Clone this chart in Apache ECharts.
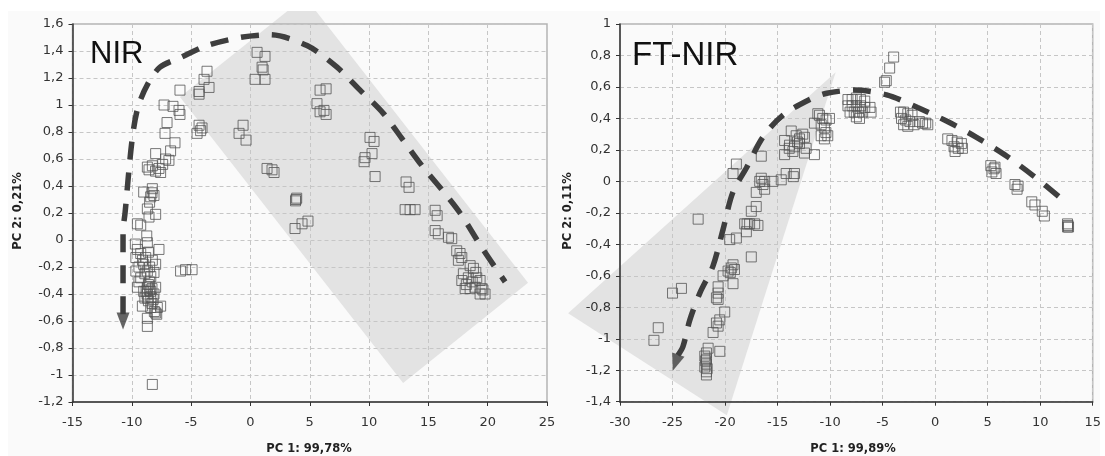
<!DOCTYPE html>
<html>
<head>
<meta charset="utf-8">
<script src="https://cdn.jsdelivr.net/npm/echarts@6/dist/echarts.min.js"></script>
<style>
html,body{margin:0;padding:0;background:#ffffff;}
#chart{width:1105px;height:456px;}
</style>
</head>
<body>
<div id="chart"></div>
<script>
// ---------- data ----------
const nirTitle = 'NIR';
const ftTitle = 'FT-NIR';
const nirXName = 'PC 1: 99,78%';
const nirYName = 'PC 2: 0,21%';
const ftXName = 'PC 1: 99,89%';
const ftYName = 'PC 2: 0,11%';

// NIR scores [PC1, PC2]
const nirScores = [
  [-8.27,-1.07],
  [-8.69,-0.64],[-8.69,-0.58],[-7.99,-0.54],[-9.11,-0.49],[-8.41,-0.50],[-7.85,-0.50],[-7.57,-0.49],[-8.10,-0.53],[-7.90,-0.55],
  [-8.69,-0.43],[-8.13,-0.40],[-8.41,-0.38],[-9.00,-0.38],[-8.69,-0.35],[-9.53,-0.35],[-7.99,-0.35],[-8.60,-0.33],[-8.50,-0.37],
  [-8.70,-0.40],[-8.40,-0.42],[-8.60,-0.45],[-8.30,-0.36],[-8.80,-0.38],[-8.50,-0.31],[-8.20,-0.44],[-8.90,-0.43],[-8.30,-0.47],
  [-9.25,-0.28],[-8.13,-0.24],[-8.69,-0.23],[-9.66,-0.23],[-9.00,-0.18],[-7.99,-0.18],[-8.27,-0.15],[-9.66,-0.13],[-8.83,-0.13],
  [-9.25,-0.10],[-7.71,-0.07],[-9.53,-0.07],[-8.69,-0.02],[-8.74,0.03],[-8.50,-0.20],[-8.90,-0.25],[-9.40,-0.20],[-8.40,-0.27],
  [-9.10,-0.15],[-8.60,-0.09],[-9.70,-0.03],[-9.40,-0.31],
  [-5.89,-0.23],[-5.47,-0.22],[-4.92,-0.22],
  [-9.25,0.11],[-9.53,0.12],[-8.55,0.17],[-7.99,0.19],[-8.69,0.23],[-8.41,0.32],[-8.13,0.33],[-9.00,0.355],[-8.27,0.38],[-8.50,0.28],[-8.30,0.35],
  [-8.55,0.52],[-7.57,0.50],[-7.71,0.53],[-8.27,0.55],[-8.69,0.54],[-6.87,0.59],[-7.15,0.60],[-6.73,0.66],[-7.99,0.64],[-7.40,0.56],[-8.00,0.51],
  [-6.36,0.72],[-7.20,0.79],[-7.03,0.87],[-5.94,0.93],[-6.02,0.96],[-6.53,0.99],[-7.28,1.00],[-5.94,1.11],
  [-4.33,1.08],[-4.33,1.10],[-3.49,1.13],[-3.91,1.19],[-3.66,1.25],
  [-4.33,0.85],[-4.08,0.83],[-4.50,0.79],[-4.20,0.81],
  [-0.62,0.85],[-0.96,0.79],[-0.37,0.74],
  [0.56,1.39],[1.23,1.36],[0.98,1.28],[1.07,1.26],[0.39,1.19],[1.23,1.19],
  [1.40,0.53],[1.82,0.52],[1.99,0.50],
  [5.87,1.11],[6.38,1.12],[5.61,1.01],[5.87,0.95],[6.38,0.93],[6.20,0.96],
  [3.84,0.30],[3.90,0.31],[3.80,0.29],[4.85,0.14],[4.35,0.12],[3.76,0.085],
  [10.08,0.76],[10.42,0.73],[10.25,0.64],[9.66,0.61],[9.58,0.58],[10.51,0.47],
  [13.12,0.43],[13.37,0.39],[13.04,0.225],[13.46,0.225],[13.88,0.225],
  [15.57,0.22],[15.74,0.18],[15.57,0.07],[15.84,0.046],[16.69,0.02],[16.97,0.01],
  [17.39,-0.08],[17.67,-0.10],[17.82,-0.13],[17.53,-0.15],[18.52,-0.19],[18.80,-0.21],[17.95,-0.25],[18.37,-0.28],
  [19.08,-0.28],[19.36,-0.30],[17.82,-0.30],[18.10,-0.36],[18.52,-0.36],[18.94,-0.35],[19.50,-0.36],[19.36,-0.40],
  [19.78,-0.40],[19.60,-0.37],[18.70,-0.31],[19.00,-0.24],[18.20,-0.33]
];

// FT-NIR scores [PC1, PC2]
const ftScores = [
  [-26.77,-1.01],[-26.36,-0.93],[-25.00,-0.71],[-24.15,-0.68],[-22.56,-0.24],
  [-21.61,-1.06],[-20.50,-1.08],[-21.77,-1.09],[-21.93,-1.11],[-21.77,-1.13],[-21.77,-1.16],[-21.93,-1.18],[-21.77,-1.21],
  [-21.77,-1.23],[-21.85,-1.14],[-21.70,-1.19],
  [-20.03,-0.83],[-20.50,-0.88],[-20.82,-0.90],[-20.66,-0.92],[-21.14,-0.96],
  [-20.66,-0.67],[-20.66,-0.71],[-20.82,-0.74],[-20.66,-0.75],
  [-19.24,-0.53],[-19.40,-0.55],[-19.71,-0.57],[-20.19,-0.60],[-19.10,-0.56],[-19.24,-0.65],[-19.50,-0.58],
  [-17.50,-0.48],[-18.92,-0.36],[-19.56,-0.37],
  [-18.13,-0.27],[-17.66,-0.27],[-17.18,-0.27],[-16.87,-0.28],[-17.97,-0.32],[-17.90,-0.27],
  [-17.03,-0.16],[-17.50,-0.19],
  [-16.55,0.02],[-16.23,0.00],[-16.39,-0.02],[-16.70,0.00],[-17.03,-0.07],[-16.23,-0.05],
  [-14.18,0.05],[-13.39,0.05],[-14.65,0.01],[-15.44,0.00],[-13.50,0.03],
  [-16.55,0.16],[-18.92,0.11],[-19.24,0.05],
  [-13.70,0.32],[-13.23,0.29],[-12.60,0.30],[-12.91,0.27],[-12.44,0.28],[-14.33,0.26],[-13.86,0.23],[-13.39,0.22],
  [-12.91,0.24],[-13.54,0.19],[-12.44,0.18],[-11.49,0.17],[-14.33,0.17],[-13.89,0.21],[-12.28,0.21],[-13.10,0.25],
  [-11.01,0.42],[-10.70,0.40],[-10.38,0.39],[-11.49,0.37],[-10.85,0.36],[-10.54,0.34],[-10.85,0.29],[-10.22,0.29],
  [-10.54,0.27],[-10.06,0.40],[-11.17,0.43],[-10.40,0.31],
  [-8.30,0.52],[-7.90,0.52],[-7.50,0.53],[-7.10,0.52],[-6.70,0.51],[-8.30,0.48],[-7.90,0.48],[-7.50,0.48],[-7.10,0.48],
  [-6.70,0.47],[-8.10,0.44],[-7.70,0.44],[-7.30,0.44],[-6.90,0.44],[-7.50,0.41],[-7.20,0.40],[-6.20,0.47],[-6.10,0.44],
  [-3.95,0.79],[-4.33,0.72],[-4.65,0.64],[-4.81,0.63],
  [-3.30,0.44],[-3.00,0.44],[-2.60,0.43],[-2.20,0.42],[-3.20,0.40],[-2.80,0.39],[-2.40,0.38],[-3.00,0.36],[-2.60,0.35],
  [-1.20,0.37],[-0.90,0.37],[-0.70,0.36],[-1.50,0.38],[-2.00,0.36],
  [1.20,0.27],[1.60,0.26],[2.10,0.25],[2.50,0.24],[1.80,0.22],[2.20,0.21],[2.60,0.21],[1.90,0.19],
  [5.30,0.10],[5.70,0.09],[5.40,0.06],[5.80,0.05],[5.60,0.08],
  [7.60,-0.02],[7.90,-0.03],[7.80,-0.05],
  [9.20,-0.13],[9.50,-0.15],[10.20,-0.19],[10.40,-0.22],
  [12.60,-0.27],[12.70,-0.29],[12.60,-0.29],[12.65,-0.28]
];

// dashed trend curves (drawn from the arrow end)
const nirTrend = [[-10.74,-0.55],[-10.74,-0.32],[-10.74,0.06],[-10.57,0.20],[-9.98,0.74],[-9.48,0.985],[-8.63,1.16],
  [-7.62,1.28],[-5.94,1.35],[-3.66,1.44],[-0.88,1.50],[1.65,1.52],[4.77,1.44],[7.30,1.28],[9.24,1.11],[11.18,0.94],
  [12.87,0.74],[14.55,0.54],[16.16,0.37],[17.67,0.20],[19.61,-0.07],[21.47,-0.31]];
const ftTrend = [[-24.49,-1.105],[-24.01,-1.05],[-23.35,-0.88],[-22.40,-0.71],[-21.16,-0.54],[-20.21,-0.31],[-19.26,-0.07],
  [-17.93,0.09],[-16.41,0.28],[-14.51,0.42],[-11.94,0.52],[-10.32,0.56],[-7.66,0.58],[-4.62,0.55],[-1.67,0.47],
  [1.18,0.38],[3.94,0.28],[6.60,0.17],[9.26,0.04],[11.83,-0.10],[12.49,-0.14]];
const nirArrow = [[-10.74,-0.60]];
const ftArrow = [[-24.71,-1.152]];

// shaded regions (polygon vertices in data units)
const nirRegion = [[-5.94,1.06],[4.6,1.80],[23.4,-0.316],[12.87,-1.06]];
const ftRegion = [[-34.94,-0.838],[-9.47,0.694],[-19.83,-1.486]];

// axes
const nirX = {min:-15, max:25, interval:5};
const nirY = {min:-1.2, max:1.6, interval:0.2};
const ftX = {min:-30, max:15, interval:5};
const ftY = {min:-1.4, max:1.0, interval:0.2};

// ---------- chart ----------
const chart = echarts.init(document.getElementById('chart'), null, {renderer:'canvas'});
const labelFont = 'DejaVu Sans';
const fmtY = v => String(Math.round(v*10)/10).replace('.', ',');

function clipAbove(pts, yTop){
  const out = [];
  for (let i = 0; i < pts.length; i++){
    const a = pts[i], b = pts[(i+1) % pts.length];
    const ain = a[1] >= yTop, bin = b[1] >= yTop;
    if (ain) out.push(a);
    if (ain !== bin){
      const t = (yTop - a[1]) / (b[1] - a[1]);
      out.push([a[0] + t*(b[0]-a[0]), yTop]);
    }
  }
  return out;
}

function xAxisCfg(idx, r){
  return {type:'value', gridIndex:idx, min:r.min, max:r.max, interval:r.interval,
    axisLine:{show:true, onZero:false, lineStyle:{color:'#333', width:1.5}},
    axisTick:{show:true, length:4, lineStyle:{color:'#333'}},
    axisLabel:{margin:14, color:'#333', fontSize:13, fontFamily:labelFont, formatter: v => String(v)},
    splitLine:{show:true, lineStyle:{color:'#c6c6c6', width:1, type:[4,3]}}};
}
function yAxisCfg(idx, r){
  return {type:'value', gridIndex:idx, min:r.min, max:r.max, interval:r.interval,
    axisLine:{show:true, onZero:false, lineStyle:{color:'#333', width:1.5}},
    axisTick:{show:true, length:4, lineStyle:{color:'#333'}},
    axisLabel:{margin:9, color:'#333', fontSize:13, fontFamily:labelFont, formatter: fmtY},
    splitLine:{show:true, lineStyle:{color:'#c6c6c6', width:1, type:[4,3]}}};
}
function regionSeries(idx, pts){
  return {type:'custom', xAxisIndex:idx, yAxisIndex:idx, z:-1, silent:true, clip:false, data:[0],
    renderItem: function(params, api){
      let p = pts.map(d => api.coord(d));
      p = clipAbove(p, params.coordSys.y - 13);
      return {type:'polygon', shape:{points:p}, style:{fill:'#e3e3e3'}};
    }};
}
function scatterSeries(idx, data){
  return {type:'scatter', xAxisIndex:idx, yAxisIndex:idx, data:data, symbol:'rect', symbolSize:10, silent:true,
    itemStyle:{color:'rgba(0,0,0,0)', borderColor:'#555', borderWidth:1}, z:3};
}
function trendSeries(idx, data){
  return {type:'line', xAxisIndex:idx, yAxisIndex:idx, data:data, showSymbol:false, smooth:0.3, silent:true, z:5,
    lineStyle:{color:'#3e3e3e', width:5.5, type:[18,13], cap:'butt'}};
}
function arrowSeries(idx, data, rot){
  return {type:'scatter', xAxisIndex:idx, yAxisIndex:idx, data:data, symbol:'triangle', symbolSize:[13,17],
    symbolRotate:rot, silent:true, z:6, itemStyle:{color:'#3e3e3e'}};
}

const option = {
  animation:false,
  backgroundColor:'#ffffff',
  grid:[
    {left:72.5, top:24, width:474.5, height:378, show:true, borderColor:'#b4b4b4', borderWidth:1.5, backgroundColor:'transparent'},
    {left:620, top:24, width:472.7, height:377.7, show:true, borderColor:'#b4b4b4', borderWidth:1.5, backgroundColor:'transparent'}
  ],
  xAxis:[xAxisCfg(0, nirX), xAxisCfg(1, ftX)],
  yAxis:[yAxisCfg(0, nirY), yAxisCfg(1, ftY)],
  graphic:[
    {type:'rect', z:-10, shape:{x:8, y:11, width:1092, height:445}, style:{fill:'#fafafa'}},
    {type:'text', z:10, x:90, y:54, style:{text:nirTitle, font:'31px "Liberation Sans", Arial, sans-serif', fill:'#111', verticalAlign:'middle'}},
    {type:'text', z:10, x:632, y:56, style:{text:ftTitle, font:'33px "Liberation Sans", Arial, sans-serif', fill:'#111', verticalAlign:'middle'}},
    {type:'text', z:10, x:309, y:449, style:{text:nirXName, font:'bold 11.5px "DejaVu Sans"', fill:'#222', align:'center', verticalAlign:'middle'}},
    {type:'text', z:10, x:853, y:449, style:{text:ftXName, font:'bold 11.5px "DejaVu Sans"', fill:'#222', align:'center', verticalAlign:'middle'}},
    {type:'text', z:10, x:18, y:211, rotation:Math.PI/2, style:{text:nirYName, font:'bold 11.5px "DejaVu Sans"', fill:'#222', align:'center', verticalAlign:'middle'}},
    {type:'text', z:10, x:568, y:211, rotation:Math.PI/2, style:{text:ftYName, font:'bold 11.5px "DejaVu Sans"', fill:'#222', align:'center', verticalAlign:'middle'}}
  ],
  series:[
    regionSeries(0, nirRegion),
    regionSeries(1, ftRegion),
    scatterSeries(0, nirScores),
    scatterSeries(1, ftScores),
    trendSeries(0, nirTrend),
    trendSeries(1, ftTrend),
    arrowSeries(0, nirArrow, 180),
    arrowSeries(1, ftArrow, 161)
  ]
};
chart.setOption(option);
</script>
</body>
</html>
